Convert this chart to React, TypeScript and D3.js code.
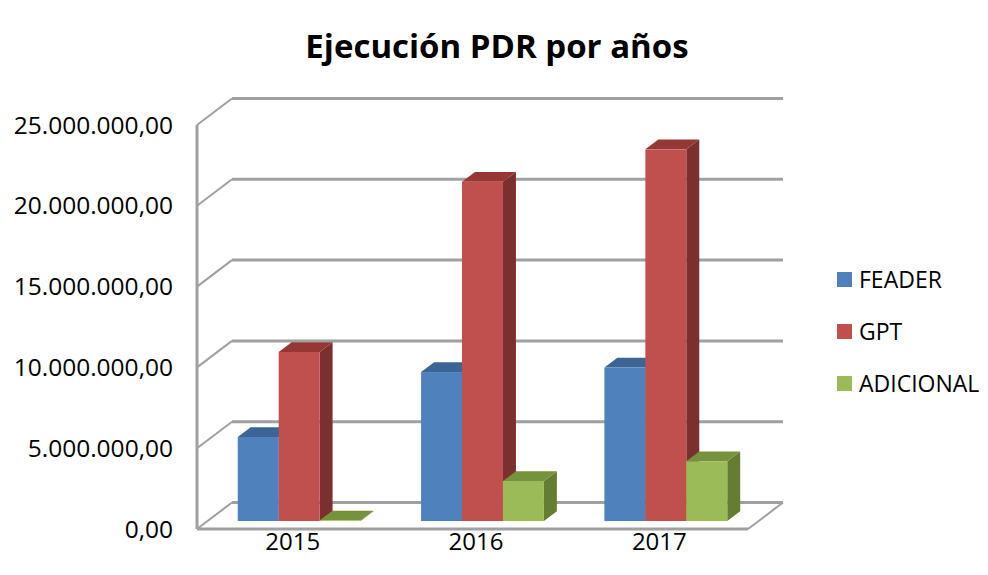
import * as d3 from 'd3';

const years = ['2015', '2016', '2017'];
const seriesNames = ['FEADER', 'GPT', 'ADICIONAL'];
const feader = [5200000, 9220000, 9500000];
const gpt = [10460000, 21000000, 23000000];
const adicional = [30000, 2480000, 3700000];
const yTicks = [0, 5000000, 10000000, 15000000, 20000000, 25000000];

const seriesValues = [feader, gpt, adicional];
const faceColors = [
  { front: '#4F81BD', top: '#3C6494', side: '#385D8A' },
  { front: '#C0504D', top: '#953735', side: '#7B2F2F' },
  { front: '#9BBB59', top: '#76923C', side: '#657C33' },
];

const width = 988;
const height = 575;
const plot = { left: 197, right: 747, floor: 529, top: 125 };
const depth = { dx: 35, dy: -26.5 };
const barFront = 0.3;
const barDepth = 0.37;
const font = '"Open Sans", "Liberation Sans", sans-serif';
const gridColor = '#A0A0A0';

const fmt = (v: number) => {
  const s = d3.format(',.2f')(v);
  return s.replace(/,/g, '#').replace('.', ',').replace(/#/g, '.');
};

export default function App() {
  const x = d3.scaleBand<string>().domain(years).range([plot.left, plot.right]).padding(0);
  const step = x.step();
  const xSub = d3
    .scaleBand<string>()
    .domain(seriesNames)
    .range([step * 0.165, step * 0.835])
    .padding(0);
  const y = d3.scaleLinear().domain([0, 25000000]).range([plot.floor, plot.top]);

  const proj = (px: number, py: number, d: number): [number, number] => [px + d * depth.dx, py + d * depth.dy];
  const poly = (pts: [number, number][]) => pts.map((p) => p.join(',')).join(' ');

  const backLeft = plot.left + depth.dx;
  const backRight = plot.right + 1 + depth.dx;

  const bars: JSX.Element[] = [];
  years.forEach((yr, i) => {
    seriesNames.forEach((s, j) => {
      const v = seriesValues[j][i];
      const x0 = (x(yr) ?? 0) + (xSub(s) ?? 0);
      const w = xSub.bandwidth();
      const [fx, fyBase] = proj(x0, y(0), barFront);
      const [, fyTop] = proj(x0, y(v), barFront);
      const ox = barDepth * depth.dx;
      const oy = barDepth * depth.dy;
      const c = faceColors[j];
      bars.push(
        <g key={`${yr}-${s}`}>
          <polygon
            points={poly([
              [fx + w, fyTop],
              [fx + w + ox, fyTop + oy],
              [fx + w + ox, fyBase + oy],
              [fx + w, fyBase],
            ])}
            fill={c.side}
          />
          <polygon
            points={poly([
              [fx, fyTop],
              [fx + ox, fyTop + oy],
              [fx + w + ox, fyTop + oy],
              [fx + w, fyTop],
            ])}
            fill={c.top}
          />
          <rect x={fx} y={fyTop} width={w} height={Math.max(0, fyBase - fyTop)} fill={c.front} />
        </g>
      );
    });
  });

  return (
    <svg width={width} height={height} style={{ position: 'absolute', left: 0, top: 0, background: '#fff' }}>
      <text x={497} y={58} textAnchor="middle" fontFamily={font} fontWeight="bold" fontSize={33} fill="#000">
        Ejecución PDR por años
      </text>

      {/* walls and gridlines */}
      <g stroke={gridColor} fill="none" strokeWidth={3}>
        {yTicks.map((t) => (
          <line key={`g${t}`} x1={backLeft} x2={backRight} y1={y(t) + depth.dy} y2={y(t) + depth.dy} />
        ))}
      </g>
      <g stroke={gridColor} fill="none" strokeWidth={2}>
        {yTicks.map((t) => (
          <line key={`d${t}`} x1={plot.left} y1={y(t)} x2={backLeft} y2={y(t) + depth.dy} />
        ))}
        <line x1={plot.left} x2={plot.left} y1={y(25000000)} y2={plot.floor} strokeWidth={3} />
        <line x1={plot.left} x2={plot.right + 1} y1={plot.floor} y2={plot.floor} strokeWidth={3} />
        <line x1={plot.right + 1} y1={plot.floor} x2={backRight} y2={plot.floor + depth.dy} />
      </g>

      {bars}

      {/* y axis labels */}
      {yTicks.map((t) => (
        <text
          key={`yl${t}`}
          x={173}
          y={y(t)}
          dy="0.35em"
          textAnchor="end"
          fontFamily={font}
          fontSize={24.5}
          fill="#000"
        >
          {fmt(t)}
        </text>
      ))}

      {/* x axis labels */}
      {years.map((yr) => (
        <text
          key={`xl${yr}`}
          x={(x(yr) ?? 0) + step / 2 + 4}
          y={550}
          textAnchor="middle"
          fontFamily={font}
          fontSize={24}
          fill="#000"
        >
          {yr}
        </text>
      ))}

      {/* legend */}
      {seriesNames.map((s, j) => (
        <g key={`lg${s}`} transform={`translate(837,${272 + j * 52})`}>
          <rect width={15} height={15} fill={faceColors[j].front} />
          <text x={22} y={15.5} fontFamily={font} fontSize={23} fill="#000">
            {s}
          </text>
        </g>
      ))}
    </svg>
  );
}
